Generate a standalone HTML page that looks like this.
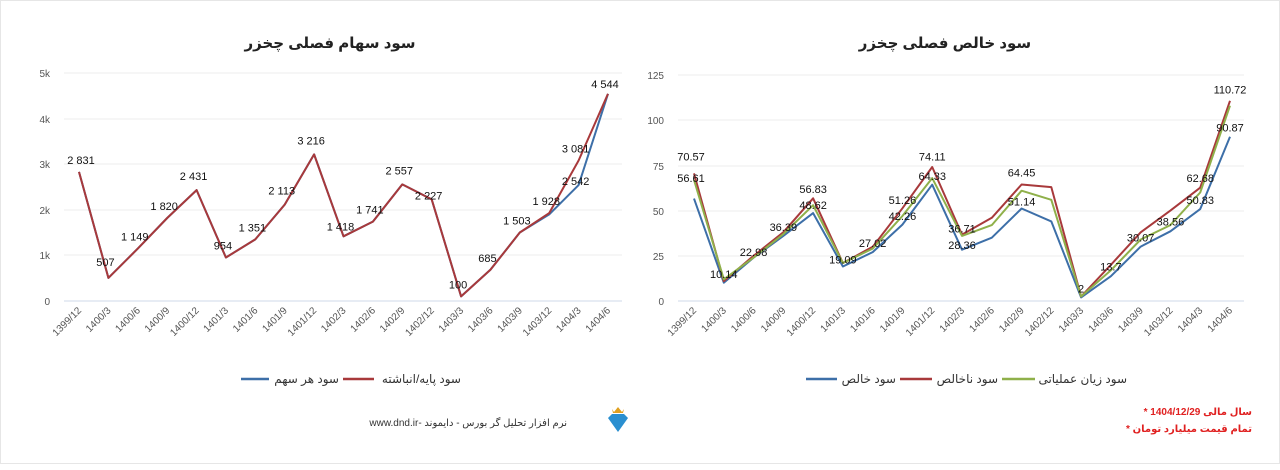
<!DOCTYPE html>
<html><head><meta charset="utf-8"><style>
body{margin:0;background:#fff;}
svg text{font-family:"Liberation Sans","DejaVu Sans",sans-serif;}
</style></head><body>
<svg width="1280" height="465" xmlns="http://www.w3.org/2000/svg">
<rect x="0.5" y="0.5" width="1279" height="463" fill="#fff" stroke="#e6e6e6"/>
<g font-size="15" font-weight="bold" fill="#222" text-anchor="middle">
<text x="330" y="48">سود سهام فصلی چخزر</text>
<text x="945" y="48">سود خالص فصلی چخزر</text>
</g>
<g stroke="#ececec" stroke-width="1">
<line x1="64" x2="622" y1="73" y2="73"/><line x1="64" x2="622" y1="119" y2="119"/><line x1="64" x2="622" y1="164" y2="164"/><line x1="64" x2="622" y1="210" y2="210"/><line x1="64" x2="622" y1="255" y2="255"/>
<line x1="64" x2="622" y1="301" y2="301" stroke="#cfd8e8"/>
<line x1="678" x2="1244" y1="75" y2="75"/><line x1="678" x2="1244" y1="120" y2="120"/><line x1="678" x2="1244" y1="166" y2="166"/><line x1="678" x2="1244" y1="211" y2="211"/><line x1="678" x2="1244" y1="256" y2="256"/>
<line x1="678" x2="1244" y1="301" y2="301" stroke="#cfd8e8"/>
</g>
<g font-size="10" fill="#555" text-anchor="end">
<text x="50" y="77">5k</text><text x="50" y="123">4k</text><text x="50" y="168">3k</text><text x="50" y="214">2k</text><text x="50" y="259">1k</text><text x="50" y="305">0</text>
<text x="664" y="79">125</text><text x="664" y="124">100</text><text x="664" y="170">75</text><text x="664" y="215">50</text><text x="664" y="260">25</text><text x="664" y="305">0</text>
</g>
<g id="xl" font-size="10" fill="#555" text-anchor="end"></g>
<g id="L"></g><g id="R"></g>
<g font-size="12" fill="#333" text-anchor="end">
<line x1="241" x2="269" y1="379" y2="379" stroke="#3d6fa8" stroke-width="2.5"/>
<text x="339" y="383">سود هر سهم</text>
<line x1="343" x2="374" y1="379" y2="379" stroke="#a8393b" stroke-width="2.5"/>
<text x="461" y="383">سود پایه/انباشته</text>
<line x1="806" x2="837" y1="379" y2="379" stroke="#3d6fa8" stroke-width="2.5"/>
<text x="896" y="383">سود خالص</text>
<line x1="900" x2="932" y1="379" y2="379" stroke="#a8393b" stroke-width="2.5"/>
<text x="998" y="383">سود ناخالص</text>
<line x1="1002" x2="1035" y1="379" y2="379" stroke="#8fb04a" stroke-width="2.5"/>
<text x="1127" y="383">سود زیان عملیاتی</text>
<text x="567" y="426" font-size="10">www.dnd.ir- نرم افزار تحلیل گر بورس - دایموند</text>
</g>
<polygon points="612,414 624,414 628,418 618,432 608,418" fill="#2a8fd0"/>
<polygon points="612,409 614,412 618,407 622,412 624,409 623,413 613,413" fill="#e0a020"/>
<g font-size="10" fill="#e02020" text-anchor="end" font-weight="bold">
<text x="1252" y="415">* سال مالی 1404/12/29</text>
<text x="1252" y="432">* تمام قیمت میلیارد تومان</text>
</g>
</svg>
<script>
var ns="http://www.w3.org/2000/svg";
function el(p,t,a,txt){var e=document.createElementNS(ns,t);for(var k in a)e.setAttribute(k,a[k]);if(txt!==undefined)e.textContent=txt;document.getElementById(p).appendChild(e);}
var lab=["1399/12","1400/3","1400/6","1400/9","1400/12","1401/3","1401/6","1401/9","1401/12","1402/3","1402/6","1402/9","1402/12","1403/3","1403/6","1403/9","1403/12","1404/3","1404/6"];
function xs(x0,x1,i){return x0+(x1-x0)*i/18;}
lab.forEach(function(l,i){
 [[79,608],[694,1230]].forEach(function(r){var x=xs(r[0],r[1],i)+3,y=311;
 el("xl","text",{x:x,y:y,transform:"rotate(-45 "+x+" "+y+")"},l);});
});
function line(p,d,x0,x1,y0,sc,col){
 var pts=d.map(function(v,i){return xs(x0,x1,i).toFixed(1)+","+(y0-v*sc).toFixed(1);}).join(" ");
 el(p,"polyline",{points:pts,fill:"none",stroke:col,"stroke-width":2,"stroke-linejoin":"round"});
}
var red=[2831,507,1149,1820,2431,954,1351,2113,3216,1418,1741,2557,2227,100,685,1503,1928,3081,4544];
var blue=red.slice();blue[17]=2542;blue[16]=1900;
var ls=228/5000;
line("L",blue,79,608,301,ls,"#3d6fa8");
line("L",red,79,608,301,ls,"#a8393b");
var lt=[["2 831",0,2831,-8],["507",1,507,-12],["1 149",2,1149,-8],["1 820",3,1820,-8],["2 431",4,2431,-10],["954",5,954,-8],["1 351",6,1351,-8],["2 113",7,2113,-10],["3 216",8,3216,-10],["1 418",9,1418,-6],["1 741",10,1741,-8],["2 557",11,2557,-10],["2 227",12,2227,0],["100",13,100,-8],["685",14,685,-8],["1 503",15,1503,-8],["1 928",16,1928,-8],["3 081",17,3081,-8],["2 542",17,2542,0],["4 544",18,4544,-6]];
lt.forEach(function(t){el("L","text",{x:xs(79,608,t[1])-(t[1]==0?-2:3),y:301-t[2]*ls+t[3],"font-size":11,fill:"#111","text-anchor":"middle"},t[0]);});
var rs=226/125;
var rB=[56.61,10.14,24,36,48.62,19.09,27.02,42.26,64.33,28.36,35,51.14,44,2,13.7,30.07,38.56,50.83,90.87];
var rG=[67,12,24,37,53,21,29,47,68,36,42,61,56,2.5,17,34,42,60,108];
var rR=[70.57,11,25,38,56.83,21,30,51.26,74.11,36.71,46,64.45,63,2.5,20,38,50,62.68,110.72];
line("R",rB,694,1230,301,rs,"#3d6fa8");
line("R",rR,694,1230,301,rs,"#a8393b");
line("R",rG,694,1230,301,rs,"#8fb04a");
var rt=[["70.57",0,80],["56.61",0,68],["10.14",1,15],["22.98",2,27],["36.39",3,41],["56.83",4,62],["48.62",4,53],["19.09",5,23],["27.02",6,32],["51.26",7,56],["42.26",7,47],["74.11",8,80],["64.33",8,69],["36.71",9,40],["28.36",9,31],["64.45",11,71],["51.14",11,55],["2",13,7],["13.7",14,19],["30.07",15,35],["38.56",16,44],["62.68",17,68],["50.83",17,56],["110.72",18,117],["90.87",18,96]];
rt.forEach(function(t){el("R","text",{x:xs(694,1230,t[1])+(t[1]==0?-3:0),y:301-t[2]*rs+4,"font-size":11,fill:"#111","text-anchor":"middle"},t[0]);});
</script>
</body></html>
